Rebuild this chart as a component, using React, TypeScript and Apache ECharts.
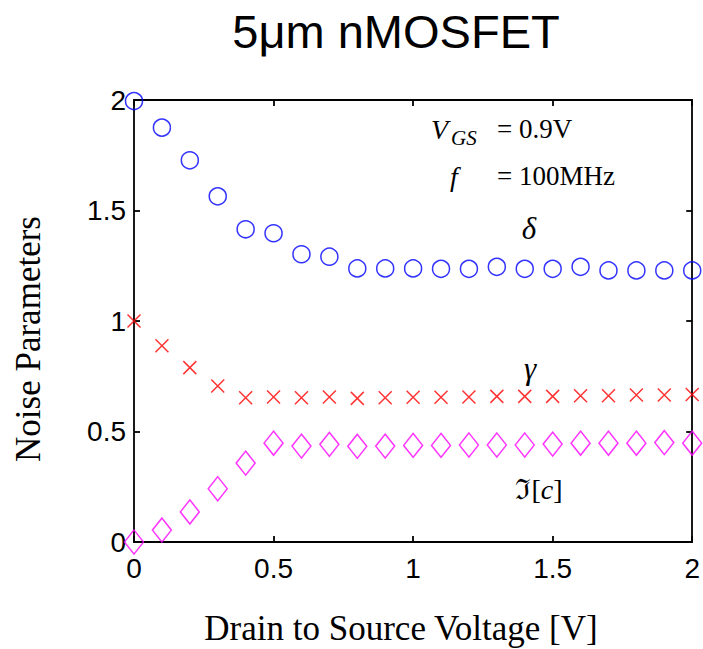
import React, { useEffect, useRef } from "react";
import * as echarts from "echarts";

const vds = [0, 0.1, 0.2, 0.3, 0.4, 0.5, 0.6, 0.7, 0.8, 0.9, 1.0, 1.1, 1.2, 1.3, 1.4, 1.5, 1.6, 1.7, 1.8, 1.9, 2.0];
const delta = [1.995, 1.875, 1.727, 1.564, 1.415, 1.397, 1.302, 1.291, 1.238, 1.238, 1.238, 1.236, 1.236, 1.245, 1.236, 1.236, 1.245, 1.229, 1.229, 1.229, 1.229];
const gamma = [1.0, 0.888, 0.789, 0.706, 0.653, 0.656, 0.653, 0.656, 0.65, 0.653, 0.655, 0.655, 0.656, 0.659, 0.659, 0.659, 0.662, 0.662, 0.665, 0.665, 0.667];
const imC = [0.0, 0.054, 0.136, 0.241, 0.357, 0.447, 0.434, 0.442, 0.433, 0.434, 0.437, 0.437, 0.439, 0.439, 0.439, 0.443, 0.447, 0.447, 0.447, 0.45, 0.447];

const xTicks = [0, 0.5, 1, 1.5, 2];
const yTicks = [0, 0.5, 1, 1.5, 2];

const titleText = "5\u03bcm nMOSFET";
const xLabel = "Drain to Source Voltage [V]";
const yLabel = "Noise Parameters";

const SANS = "'Liberation Sans', Arial, Helvetica, sans-serif";
const SERIF = "'Liberation Serif', 'Times New Roman', 'DejaVu Serif', serif";

export default function App() {
  const ref = useRef<HTMLDivElement>(null);
  useEffect(() => {
    if (!ref.current) return;
    const chart = echarts.init(ref.current, undefined, { renderer: "svg" });
    const pair = (ys: number[]) => vds.map((x, i) => [x, ys[i]]);
    const axisLineStyle = { color: "#000", width: 1.8 };
    const mkX = (pos: "bottom" | "top", labels: boolean) => ({
      type: "value",
      position: pos,
      min: xTicks[0],
      max: xTicks[xTicks.length - 1],
      interval: xTicks[1] - xTicks[0],
      axisLine: { show: true, onZero: false, lineStyle: axisLineStyle },
      axisTick: { show: true, inside: true, length: 6, lineStyle: axisLineStyle },
      axisLabel: {
        show: labels,
        color: "#000",
        fontSize: 28,
        fontFamily: SANS,
        margin: 12,
        formatter: (v: number) => String(v),
      },
      splitLine: { show: false },
    });
    const mkY = (pos: "left" | "right", labels: boolean) => ({
      type: "value",
      position: pos,
      min: yTicks[0],
      max: yTicks[yTicks.length - 1],
      interval: yTicks[1] - yTicks[0],
      axisLine: { show: true, onZero: false, lineStyle: axisLineStyle },
      axisTick: { show: true, inside: true, length: 6, lineStyle: axisLineStyle },
      axisLabel: {
        show: labels,
        color: "#000",
        fontSize: 28,
        fontFamily: SANS,
        margin: 8,
        formatter: (v: number) => String(v),
      },
      splitLine: { show: false },
    });
    const serifText = (text: string, x: number, y: number, size: number, italic = false, align = "left") => ({
      type: "text",
      x,
      y,
      z: 100,
      style: {
        text,
        fill: "#000",
        fontSize: size,
        fontFamily: SERIF,
        fontStyle: italic ? "italic" : "normal",
        align,
        verticalAlign: "middle",
      },
    });
    chart.setOption({
      animation: false,
      backgroundColor: "#fff",
      grid: { left: 134, right: 9, top: 100, bottom: 107, containLabel: false },
      xAxis: [mkX("bottom", true), mkX("top", false)],
      yAxis: [mkY("left", true), mkY("right", false)],
      series: [
        {
          name: "delta",
          type: "scatter",
          data: pair(delta),
          symbol: "circle",
          symbolSize: 17,
          clip: false,
          itemStyle: { color: "none", borderColor: "#0000ff", borderWidth: 1.5 },
        },
        {
          name: "gamma",
          type: "scatter",
          data: pair(gamma),
          symbol: "path://M0 0L10 10M10 0L0 10",
          symbolSize: 13,
          clip: false,
          itemStyle: { color: "none", borderColor: "#ff0000", borderWidth: 1.5 },
        },
        {
          name: "imc",
          type: "scatter",
          data: pair(imC),
          symbol: "diamond",
          symbolSize: [19, 24],
          clip: false,
          itemStyle: { color: "none", borderColor: "#ff00ff", borderWidth: 1.5 },
        },
      ],
      graphic: [
        {
          type: "text",
          x: 396,
          y: 31,
          style: {
            text: titleText,
            fill: "#000",
            fontSize: 47,
            fontFamily: SANS,
            align: "center",
            verticalAlign: "middle",
          },
        },
        serifText(xLabel, 401, 628, 35, false, "center"),
        {
          type: "text",
          x: 28,
          y: 339,
          rotation: Math.PI / 2,
          style: {
            text: yLabel,
            fill: "#000",
            fontSize: 35,
            fontFamily: SERIF,
            align: "center",
            verticalAlign: "middle",
          },
        },
        serifText("V", 431, 129, 28, true),
        serifText("GS", 451, 138, 21, true),
        serifText("= 0.9V", 497, 129, 27),
        serifText("f", 450, 176, 28, true),
        serifText("= 100MHz", 497, 176, 27),
        serifText("\u03b4", 529, 228, 31, true, "center"),
        serifText("\u03b3", 530, 368, 31, true, "center"),
        {
          type: "text",
          x: 539,
          y: 489,
          z: 100,
          style: {
            text: "{r|\u2111[}{i|c}{r|]}",
            fill: "#000",
            align: "center",
            verticalAlign: "middle",
            rich: {
              r: { fontSize: 28, fontFamily: SERIF, fill: "#000" },
              i: { fontSize: 28, fontFamily: SERIF, fontStyle: "italic", fill: "#000" },
            },
          },
        },
      ],
    });
    return () => chart.dispose();
  }, []);
  return (
    <div
      ref={ref}
      style={{ position: "fixed", left: 0, top: 0, width: 703, height: 649 }}
    />
  );
}
